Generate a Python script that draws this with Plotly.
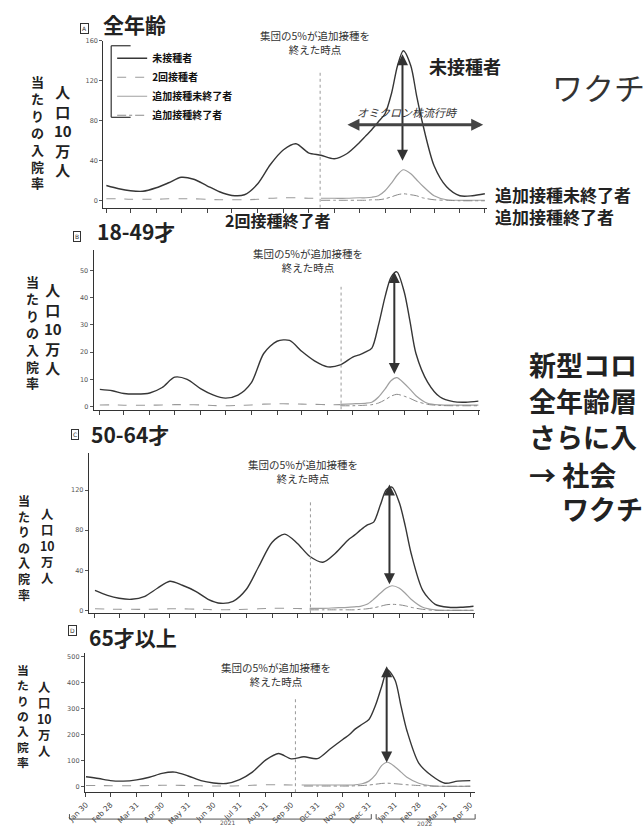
import plotly.graph_objects as go
import pandas as pd

W, H = 644, 835
JP = "Noto Sans CJK JP"

# ---------------- data ----------------
dates = ["2021-01-30", "2021-02-14", "2021-02-28", "2021-03-15", "2021-03-31", "2021-04-15",
         "2021-04-30", "2021-05-15", "2021-05-31", "2021-06-15", "2021-06-30", "2021-07-15",
         "2021-07-31", "2021-08-15", "2021-08-31", "2021-09-15", "2021-09-30", "2021-10-15",
         "2021-10-31", "2021-11-15", "2021-11-30", "2021-12-08", "2021-12-15", "2021-12-23",
         "2021-12-31", "2022-01-08", "2022-01-15", "2022-01-22", "2022-01-31", "2022-02-07",
         "2022-02-14", "2022-02-28", "2022-03-15", "2022-03-31", "2022-04-15", "2022-04-30"]

tick_dates = ["2021-01-30", "2021-02-28", "2021-03-31", "2021-04-30", "2021-05-31", "2021-06-30",
              "2021-07-31", "2021-08-31", "2021-09-30", "2021-10-31", "2021-11-30", "2021-12-31",
              "2022-01-31", "2022-02-28", "2022-03-31", "2022-04-30"]
tick_labels = ["Jan 30", "Feb 28", "Mar 31", "Apr 30", "May 31", "Jun 30", "Jul 31", "Aug 31",
               "Sep 30", "Oct 31", "Nov 30", "Dec 31", "Jan 31", "Feb 28", "Mar 31", "Apr 30"]

series_names = ["未接種者", "2回接種者", "追加接種未終了者", "追加接種終了者"]
panel_titles = ["全年齢", "18-49才", "50-64才", "65才以上"]
panel_letters = ["A", "B", "C", "D"]

# unvaccinated (full period)
unvax_all = [15.3, 12, 10, 9.5, 13, 18, 23.5, 21.5, 15, 9, 5.3, 6, 17, 36, 51, 57, 48, 45.5,
             42, 47, 58, 65, 71, 79, 87, 108, 135, 150, 135, 105, 78, 35, 14, 5, 5, 7]
unvax_18_49 = [6.3, 5.8, 4.8, 4.6, 5.0, 7.0, 10.8, 10.0, 6.6, 4.3, 3.1, 4.2, 8.7, 19.5, 24.0, 24.3,
               20.2, 16.8, 14.6, 15.3, 18.2, 19.0, 20.0, 21.5, 30, 40.5, 47.5, 49.5, 42, 31, 19.5,
               9, 3.5, 1.8, 1.6, 2.0]
unvax_50_64 = [20, 15, 12, 11, 14, 22, 29, 25, 19, 11, 7, 9, 21, 44, 68, 76, 67, 54, 48, 57, 70,
               75, 80, 85, 88, 105, 120, 123, 107, 84, 57, 20, 6, 3, 3, 4]
unvax_65 = [37, 30, 22, 20, 25, 35, 50, 55, 40, 22, 13, 11, 26, 55, 102, 127, 106, 114, 107, 144,
            181, 200, 222, 240, 258, 315, 385, 450, 410, 310, 215, 90, 42, 12, 20, 22]

# two doses (before booster split) - from first date
two_all = [2, 2, 1.5, 1.5, 1.5, 2, 2, 2, 1.5, 1, 1, 1, 1.5, 2.5, 3, 3, 2.5, 2.5]
two_18_49 = [0.6, 0.6, 0.5, 0.5, 0.5, 0.6, 0.7, 0.7, 0.6, 0.4, 0.3, 0.4, 0.6, 0.9, 1.0, 1.0, 0.9,
             0.8, 0.7, 0.7]
two_50_64 = [1.5, 1.2, 1, 1, 1, 1.2, 1.5, 1.5, 1.2, 0.8, 0.6, 0.7, 1, 1.5, 2, 2, 1.8, 1.6]
two_65 = [3, 3, 2, 2, 2, 3, 4, 4, 3, 2, 1, 1, 2, 4, 6, 6, 5, 5]

# not boosted (after split) - up to last date
nb_all = [2.5, 2.5, 2.5, 3, 3, 3.5, 5, 10, 18, 26, 31, 27, 21, 15, 5, 1, 0.5, 0.5, 0.5]
nb_18_49 = [0.8, 1.0, 1.1, 1.2, 1.6, 3.5, 6.5, 9.5, 10.6, 8.5, 6.3, 4, 1.2, 0.6, 0.5, 0.5, 0.5]
nb_50_64 = [2, 2, 2.5, 3, 3.5, 4, 6, 11, 17, 22, 24.5, 22, 17, 11, 3, 0.5, 0, 0, 0]
nb_65 = [5, 5, 5, 5, 5, 6, 10, 20, 45, 80, 93, 75, 55, 35, 12, 2, 0, 0, 1]

# boosted (after split) - up to last date
bo_all = [0.5, 0.5, 0.5, 0.5, 0.5, 1, 1, 2, 4, 6, 7, 6, 5, 3, 1, 0.5, 0, 0, 0]
bo_18_49 = [0.3, 0.3, 0.4, 0.5, 0.7, 1.3, 2.5, 3.8, 4.5, 3.8, 3, 2, 0.8, 0.4, 0.3, 0.3, 0.3]
bo_50_64 = [0.5, 0.5, 0.5, 0.5, 0.5, 1, 1.5, 2.5, 4, 5.5, 6, 5.5, 4.5, 3, 1, 0, 0, 0, 0]
bo_65 = [1, 1, 1, 1, 1, 2, 3, 5, 8, 11, 12, 10, 8, 6, 3, 1, 0, 0, 0]

booster5_dates = ["2021-10-14", "2021-11-16", "2021-10-16", "2021-10-05"]
booster5_top = [130, 44, 109, 346]
arrow_dates = ["2022-01-21", "2022-01-19", "2022-01-19", "2022-01-21"]
arrow_top = [148, 50, 127, 470]
arrow_bottom = [40, 12, 26, 92]
omicron_start, omicron_end, omicron_level = "2021-11-14", "2022-04-28", 76

unvax = [unvax_all, unvax_18_49, unvax_50_64, unvax_65]
two = [two_all, two_18_49, two_50_64, two_65]
nb = [nb_all, nb_18_49, nb_50_64, nb_65]
bo = [bo_all, bo_18_49, bo_50_64, bo_65]

# ---------------- layout geometry (pixels) ----------------
panels = [
    dict(x0=87, x1=482, p0=90, p1=480, ytop=37, ybot=205, yr=[-7, 160], yt=[0, 40, 80, 120, 160]),
    dict(x0=77, x1=475, p0=83.3, p1=473.3, ytop=247, ybot=408, yr=[-1.1, 57.7], yt=[0, 10, 20, 30, 40, 50]),
    dict(x0=72, x1=470, p0=78.3, p1=468.3, ytop=452, ybot=613, yr=[-3, 156.7], yt=[0, 40, 80, 120]),
    dict(x0=68, x1=470, p0=69, p1=465, ytop=653, ybot=793, yr=[-23, 515], yt=[0, 100, 200, 300, 400, 500]),
]

styles = [
    dict(color="#363636", width=1.4, dash="solid"),
    dict(color="#9a9a9a", width=1.1, dash="dash"),
    dict(color="#a0a0a0", width=1.2, dash="solid"),
    dict(color="#8a8a8a", width=1.0, dash="dashdot"),
]

fig = go.Figure()
annotations = []
shapes = []


def px(x):
    return x / W


def py(y):
    return 1 - y / H


def note(txt, x, y, size, xanchor="left", yanchor="middle", color="#222", **kw):
    annotations.append(dict(text=txt, x=px(x), y=py(y), xref="paper", yref="paper",
                            xanchor=xanchor, yanchor=yanchor, showarrow=False,
                            font=dict(family=JP, size=size, color=color), **kw))


base0 = pd.Timestamp(dates[0])
base1 = pd.Timestamp(tick_dates[-1])
ndays = (base1 - base0).days

for i, p in enumerate(panels):
    k = "" if i == 0 else str(i + 1)
    xa, ya = "x" + k, "y" + k
    n2 = len(two[i])
    npost = len(nb[i])
    data_sets = [
        (dates, unvax[i]),
        (dates[:n2], two[i]),
        (dates[-npost:], nb[i]),
        (dates[-npost:], bo[i]),
    ]
    for j, (xs, ys) in enumerate(data_sets):
        fig.add_trace(go.Scatter(
            x=xs, y=ys, mode="lines", name=series_names[j],
            line=dict(shape="spline", smoothing=0.8, **styles[j]),
            xaxis=xa, yaxis=ya, showlegend=(i == 0), legendgroup=series_names[j],
            hoverinfo="skip"))

    pxday = (p["p1"] - p["p0"]) / ndays
    start = base0 - pd.Timedelta(days=(p["p0"] - p["x0"]) / pxday)
    end = base1 + pd.Timedelta(days=(p["x1"] - p["p1"]) / pxday)
    fig.layout["xaxis" + k] = dict(
        domain=[px(p["x0"]), px(p["x1"])], anchor=ya, type="date",
        range=[start.isoformat(), end.isoformat()],
        tickvals=tick_dates, ticktext=tick_labels, showticklabels=(i == 3),
        tickangle=-45, tickfont=dict(family="DejaVu Sans", size=7.5, color="#444"),
        ticks="outside", ticklen=4, tickcolor="#444", showgrid=False, zeroline=False,
        showline=True, linecolor="#333", linewidth=1.3)
    fig.layout["yaxis" + k] = dict(
        domain=[py(p["ybot"]), py(p["ytop"])], anchor=xa, range=p["yr"],
        tickvals=p["yt"], tickfont=dict(family="DejaVu Sans", size=6.5, color="#555"),
        ticks="outside", ticklen=3, tickcolor="#555", showgrid=False, zeroline=False,
        showline=True, linecolor="#333", linewidth=1.3)

    # booster 5% line
    shapes.append(dict(type="line", xref=xa, yref=ya, x0=booster5_dates[i], x1=booster5_dates[i],
                       y0=p["yr"][0], y1=booster5_top[i],
                       line=dict(color="#999", width=1, dash="dot")))
    # vertical double arrow
    annotations.append(dict(text="", x=arrow_dates[i], y=arrow_bottom[i], ax=arrow_dates[i],
                            ay=arrow_top[i], xref=xa, yref=ya, axref=xa, ayref=ya,
                            showarrow=True, arrowhead=2, startarrowhead=2, arrowside="end+start",
                            arrowsize=1.1, startarrowsize=1.1, arrowwidth=2, arrowcolor="#333"))

# omicron arrow (panel A)
annotations.append(dict(text="", x=omicron_end, y=omicron_level, ax=omicron_start, ay=omicron_level,
                        xref="x", yref="y", axref="x", ayref="y", showarrow=True,
                        arrowhead=2, startarrowhead=2, arrowside="end+start", arrowsize=0.8,
                        startarrowsize=0.8, arrowwidth=3, arrowcolor="#444"))
note("<i>オミクロン株流行時</i>", 400, 109, 11, xanchor="center", color="#333")

# 5% texts
for (cx, cy) in [(305, 39), (298, 258), (293, 470), (265, 675)]:
    note("集団の5%が追加接種を<br>終えた時点", cx, cy, 10.5, xanchor="center", color="#333")

# panel titles + letter boxes
title_pos = [(85, 20), (78, 228), (72, 433), (70, 637)]
box_pos = [(63, 19), (56, 228), (54, 433), (51, 636)]
for t, (tx, ty), (bx, by), L in zip(panel_titles, title_pos, box_pos, panel_letters):
    note("<b>" + t + "</b>", tx, ty, 21)
    annotations.append(dict(text=L, x=px(bx), y=py(by), xref="paper", yref="paper",
                            showarrow=False, font=dict(family="DejaVu Sans", size=6, color="#333"),
                            bordercolor="#333", borderwidth=1, borderpad=1))

# vertical y titles (two columns: 人口10万人 / 当たりの入院率)
left_text = "<br>".join(["当", "た", "り", "の", "入", "院", "率"])
right_text = "<br>".join(["人", "口", "10", "万", "人"])
ytitles = [
    (19, 128.5, 13, 45, 127.5, 15),
    (14, 330, 13, 35, 326.5, 15),
    (5, 546.5, 12, 29, 545, 12.3),
    (4, 716, 11.8, 26, 719.5, 12.3),
]
for lx, ly, ls, rx, ry, rs in ytitles:
    note("<b>" + left_text + "</b>", lx, ly, ls, xanchor="center", borderpad=0)
    note("<b>" + right_text + "</b>", rx, ry, rs, xanchor="center", borderpad=0)

# annotation labels of the slide
note("<b>未接種者</b>", 420, 62, 18)
note("<b>追加接種未終了者<br>追加接種終了者</b>", 488, 202.5, 17, align="left")
note("<b>2回接種終了者</b>", 210, 217, 16)
note("ワクチ", 547, 83, 31, color="#333")
note("<b>新型コロ</b>", 523, 363, 27)
note("<b>全年齢層</b>", 523, 399, 27)
note("<b>さらに入</b>", 523, 435, 27)
note("<b>→ 社会</b>", 523, 473, 27)
note("<b>ワクチ</b>", 557, 508, 27)

# legend bracket
shapes += [
    dict(type="line", xref="paper", yref="paper", x0=px(95), x1=px(95), y0=py(42), y1=py(114),
         line=dict(color="#333", width=1.2)),
    dict(type="line", xref="paper", yref="paper", x0=px(95), x1=px(115), y0=py(42), y1=py(42),
         line=dict(color="#333", width=1.2)),
    dict(type="line", xref="paper", yref="paper", x0=px(95), x1=px(115), y0=py(114), y1=py(114),
         line=dict(color="#333", width=1.2)),
]

# year brackets under the bottom axis
for xa0, xa1 in [(52, 363), (368, 470)]:
    shapes.append(dict(type="line", xref="paper", yref="paper", x0=px(xa0), x1=px(xa1),
                       y0=py(820), y1=py(820), line=dict(color="#555", width=1)))
    for xe in (xa0, xa1):
        shapes.append(dict(type="line", xref="paper", yref="paper", x0=px(xe), x1=px(xe),
                           y0=py(820), y1=py(815), line=dict(color="#555", width=1)))
annotations.append(dict(text="2021", x=px(205), y=py(829), xref="paper", yref="paper",
                        showarrow=False, font=dict(family="DejaVu Sans", size=6, color="#555")))
annotations.append(dict(text="2022", x=px(418), y=py(830), xref="paper", yref="paper",
                        showarrow=False, font=dict(family="DejaVu Sans", size=6, color="#555")))

fig.update_layout(
    width=W, height=H, margin=dict(l=0, r=0, t=0, b=0),
    paper_bgcolor="white", plot_bgcolor="white",
    font=dict(family=JP),
    annotations=annotations, shapes=shapes,
    legend=dict(x=px(96), y=py(40), xanchor="left", yanchor="top", bgcolor="rgba(0,0,0,0)",
                font=dict(family=JP, size=10, color="#111", weight="bold"),
                itemwidth=30, tracegroupgap=0),
)

fig.write_html("out.html", config={"displayModeBar": False},
               post_script="document.body.style.margin='0px';")
